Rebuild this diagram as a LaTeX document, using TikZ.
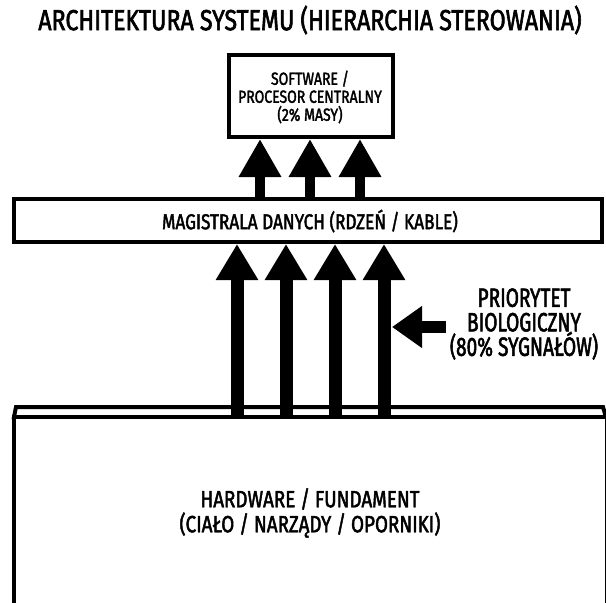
\documentclass[tikz,border=0pt]{standalone}
\usepackage{fontspec}
\setmainfont{Fira Sans}[FakeStretch=0.8,FakeBold=2]
\newfontfamily\narrowfont{Fira Sans}[FakeStretch=0.72,FakeBold=2]
\usetikzlibrary{arrows.meta}
\begin{document}
\begin{tikzpicture}[x=1pt,y=-1pt,
  frame/.style={draw=black,line width=4pt,fill=white,inner sep=0pt},
  label/.style={align=center,inner sep=0pt},
  toparrow/.style={line width=10pt,-{Triangle[length=38pt,width=40pt]}},
  bigarrow/.style={line width=13pt,-{Triangle[length=36pt,width=40pt]}},
  sidearrow/.style={line width=12pt,-{Triangle[length=30pt,width=40pt]}}]
\useasboundingbox (0,0) rectangle (606,603);

% title
\node[label,font=\fontsize{29}{30}\selectfont] (title) at (310,20)
  {ARCHITEKTURA SYSTEMU (HIERARCHIA STEROWANIA)};

% central processor
\node[frame,minimum width=164pt,minimum height=82pt] (cpu) at (311,96) {};
\node[label,font=\fontsize{17.5}{18}\selectfont] (cputxt) at (310,97)
  {SOFTWARE /\\PROCESOR CENTRALNY\\(2\% MASY)};

% data bus
\node[frame,minimum width=588pt,minimum height=43pt] (bus) at (308,220.5) {};
\node[label,font=\fontsize{21.5}{22}\selectfont] (bustxt) at (310,221)
  {MAGISTRALA DANYCH (RDZEŃ / KABLE)};

% foundation slab: thin top face and front face
\draw[line width=4pt,fill=white,line join=miter]
  (16,407) -- (603,407) -- (606,417) -- (14,417) -- cycle;
\draw[line width=4pt,fill=white]
  (14,417) -- (14,605) -- (607,605) -- (607,417) -- cycle;
\coordinate (slab) at (310,419);
\node[label,font=\fontsize{23.5}{25}\selectfont] (hw) at (310,513)
  {HARDWARE / FUNDAMENT\\(CIAŁO / NARZĄDY / OPORNIKI)};

% signals from bus to processor
\foreach \x in {260,310,360}
  \draw[toparrow] (bus.north -| \x,0) -- (cpu.south -| \x,0);

% signals from body to bus
\foreach \x in {237,286,335,384}
  \draw[bigarrow] (slab -| \x,0) -- (bus.south -| \x,0);

% biological priority note
\node[label,font=\narrowfont\fontsize{26.5}{24.5}\selectfont] (prio) at (524,324)
  {PRIORYTET\\BIOLOGICZNY\\(80\% SYGNAŁÓW)};
\coordinate (tail) at (446,327);
\coordinate (tip) at (392,327);
\draw[sidearrow] (tail) -- (tip);
\end{tikzpicture}
\end{document}
